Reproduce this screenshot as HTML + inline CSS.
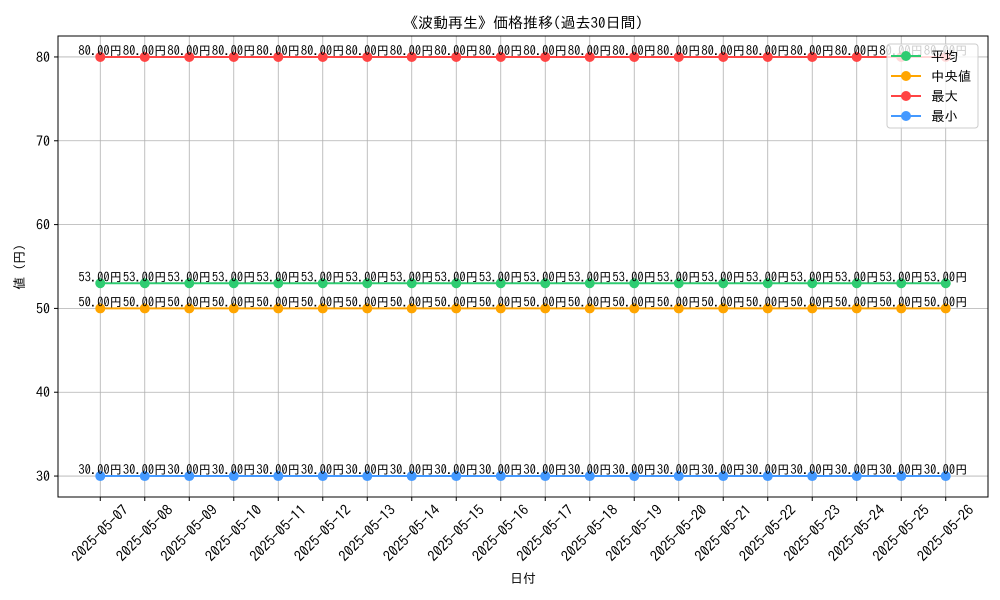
<!DOCTYPE html>
<html><head><meta charset="utf-8"><style>
body{margin:0;background:#fff}
svg{display:block;font-family:"IPAGothic","Liberation Sans","Noto Sans CJK JP",sans-serif}
</style></head><body>
<svg id="chart" width="1000" height="600" viewBox="0 0 1000 600"></svg>
<script>
const categories=["2025-05-07","2025-05-08","2025-05-09","2025-05-10","2025-05-11","2025-05-12","2025-05-13","2025-05-14","2025-05-15","2025-05-16","2025-05-17","2025-05-18","2025-05-19","2025-05-20","2025-05-21","2025-05-22","2025-05-23","2025-05-24","2025-05-25","2025-05-26"];
const avgValues=[53,53,53,53,53,53,53,53,53,53,53,53,53,53,53,53,53,53,53,53];
const medianValues=[50,50,50,50,50,50,50,50,50,50,50,50,50,50,50,50,50,50,50,50];
const maxValues=[80,80,80,80,80,80,80,80,80,80,80,80,80,80,80,80,80,80,80,80];
const minValues=[30,30,30,30,30,30,30,30,30,30,30,30,30,30,30,30,30,30,30,30];
const yTicks=[30,40,50,60,70,80];
const seriesNames=["平均","中央値","最大","最小"];

const svg=document.getElementById('chart');
const NS='http://www.w3.org/2000/svg';
function mk(t,a,p){const e=document.createElementNS(NS,t);for(const k in a)e.setAttribute(k,a[k]);(p||svg).appendChild(e);return e;}
const L=58,R=988,T=36,B=497;
const allV=[].concat(avgValues,medianValues,maxValues,minValues);
const vmin=Math.min(...allV),vmax=Math.max(...allV),pad=(vmax-vmin)*0.05||1;
const y0=vmin-pad,y1=vmax+pad;
const n=categories.length;
const xpad=(n-1)*0.05;
function X(i){return L+(i+xpad)/(n-1+2*xpad)*(R-L);}
function Y(v){return B-(v-y0)/(y1-y0)*(B-T);}

yTicks.forEach(v=>{
  const g=mk('line',{x1:L,x2:R,y1:Y(v),y2:Y(v),stroke:'#b0b0b0','stroke-width':0.8});
  
  const tk=mk('line',{x1:L-4,x2:L,y1:Y(v),y2:Y(v),stroke:'#000'});
  
  const t=mk('text',{x:L-8,y:Y(v)+5,'text-anchor':'end','font-size':14});t.textContent=v;
  
});
categories.forEach((c,i)=>{
  const g=mk('line',{x1:X(i),x2:X(i),y1:T,y2:B,stroke:'#b0b0b0','stroke-width':0.8});
  
  const tk=mk('line',{x1:X(i),x2:X(i),y1:B,y2:B+4,stroke:'#000'});
  
  const ax=X(i)+29,ay=B+14;
  const t=mk('text',{x:ax,y:ay,'text-anchor':'end','font-size':14.5,transform:`rotate(-45 ${ax} ${ay})`});t.textContent=c;
  
});

const series=[[avgValues,'#2ecc71'],[medianValues,'#ffa500'],[maxValues,'#ff4444'],[minValues,'#4499ff']];
series.forEach(([vals,col],si)=>{
  const pts=vals.map((v,i)=>X(i)+','+Y(v)).join(' ');
  const pl=mk('polyline',{points:pts,fill:'none',stroke:col,'stroke-width':2});
  
  vals.forEach((v,i)=>{
    const c=mk('circle',{cx:X(i),cy:Y(v),r:5,fill:col});
    
  });
});
series.forEach(([vals])=>{
  vals.forEach((v,i)=>{
    const t=mk('text',{x:X(i),y:Y(v)-2,'text-anchor':'middle','font-size':12.5});t.textContent=v.toFixed(2)+'円';
    
  });
});

const fr=mk('rect',{x:L,y:T,width:R-L,height:B-T,fill:'none',stroke:'#000','stroke-width':1});


const lg=mk('g',{});
mk('rect',{x:887,y:44,width:91,height:84,rx:3,fill:'rgba(255,255,255,0.8)',stroke:'#ccc'},lg);
series.forEach(([v,col],i)=>{
  const yy=56+i*20;
  const e=mk('g',{},lg);
  mk('line',{x1:891,x2:921,y1:yy,y2:yy,stroke:col,'stroke-width':2},e);
  mk('circle',{cx:906,cy:yy,r:5,fill:col},e);
  const t=mk('text',{x:931,y:yy+5,'font-size':13.5},e);t.textContent=seriesNames[i];
});

const ti=mk('text',{x:523,y:28,'text-anchor':'middle','font-size':15});ti.textContent='《波動再生》価格推移(過去30日間)';

const xt=mk('text',{x:523,y:583,'text-anchor':'middle','font-size':13});xt.textContent='日付';

const yt=mk('text',{x:24,y:267,'text-anchor':'middle','font-size':13,transform:'rotate(-90 24 267)'});yt.textContent='値 (円)';

</script>
</body></html>
